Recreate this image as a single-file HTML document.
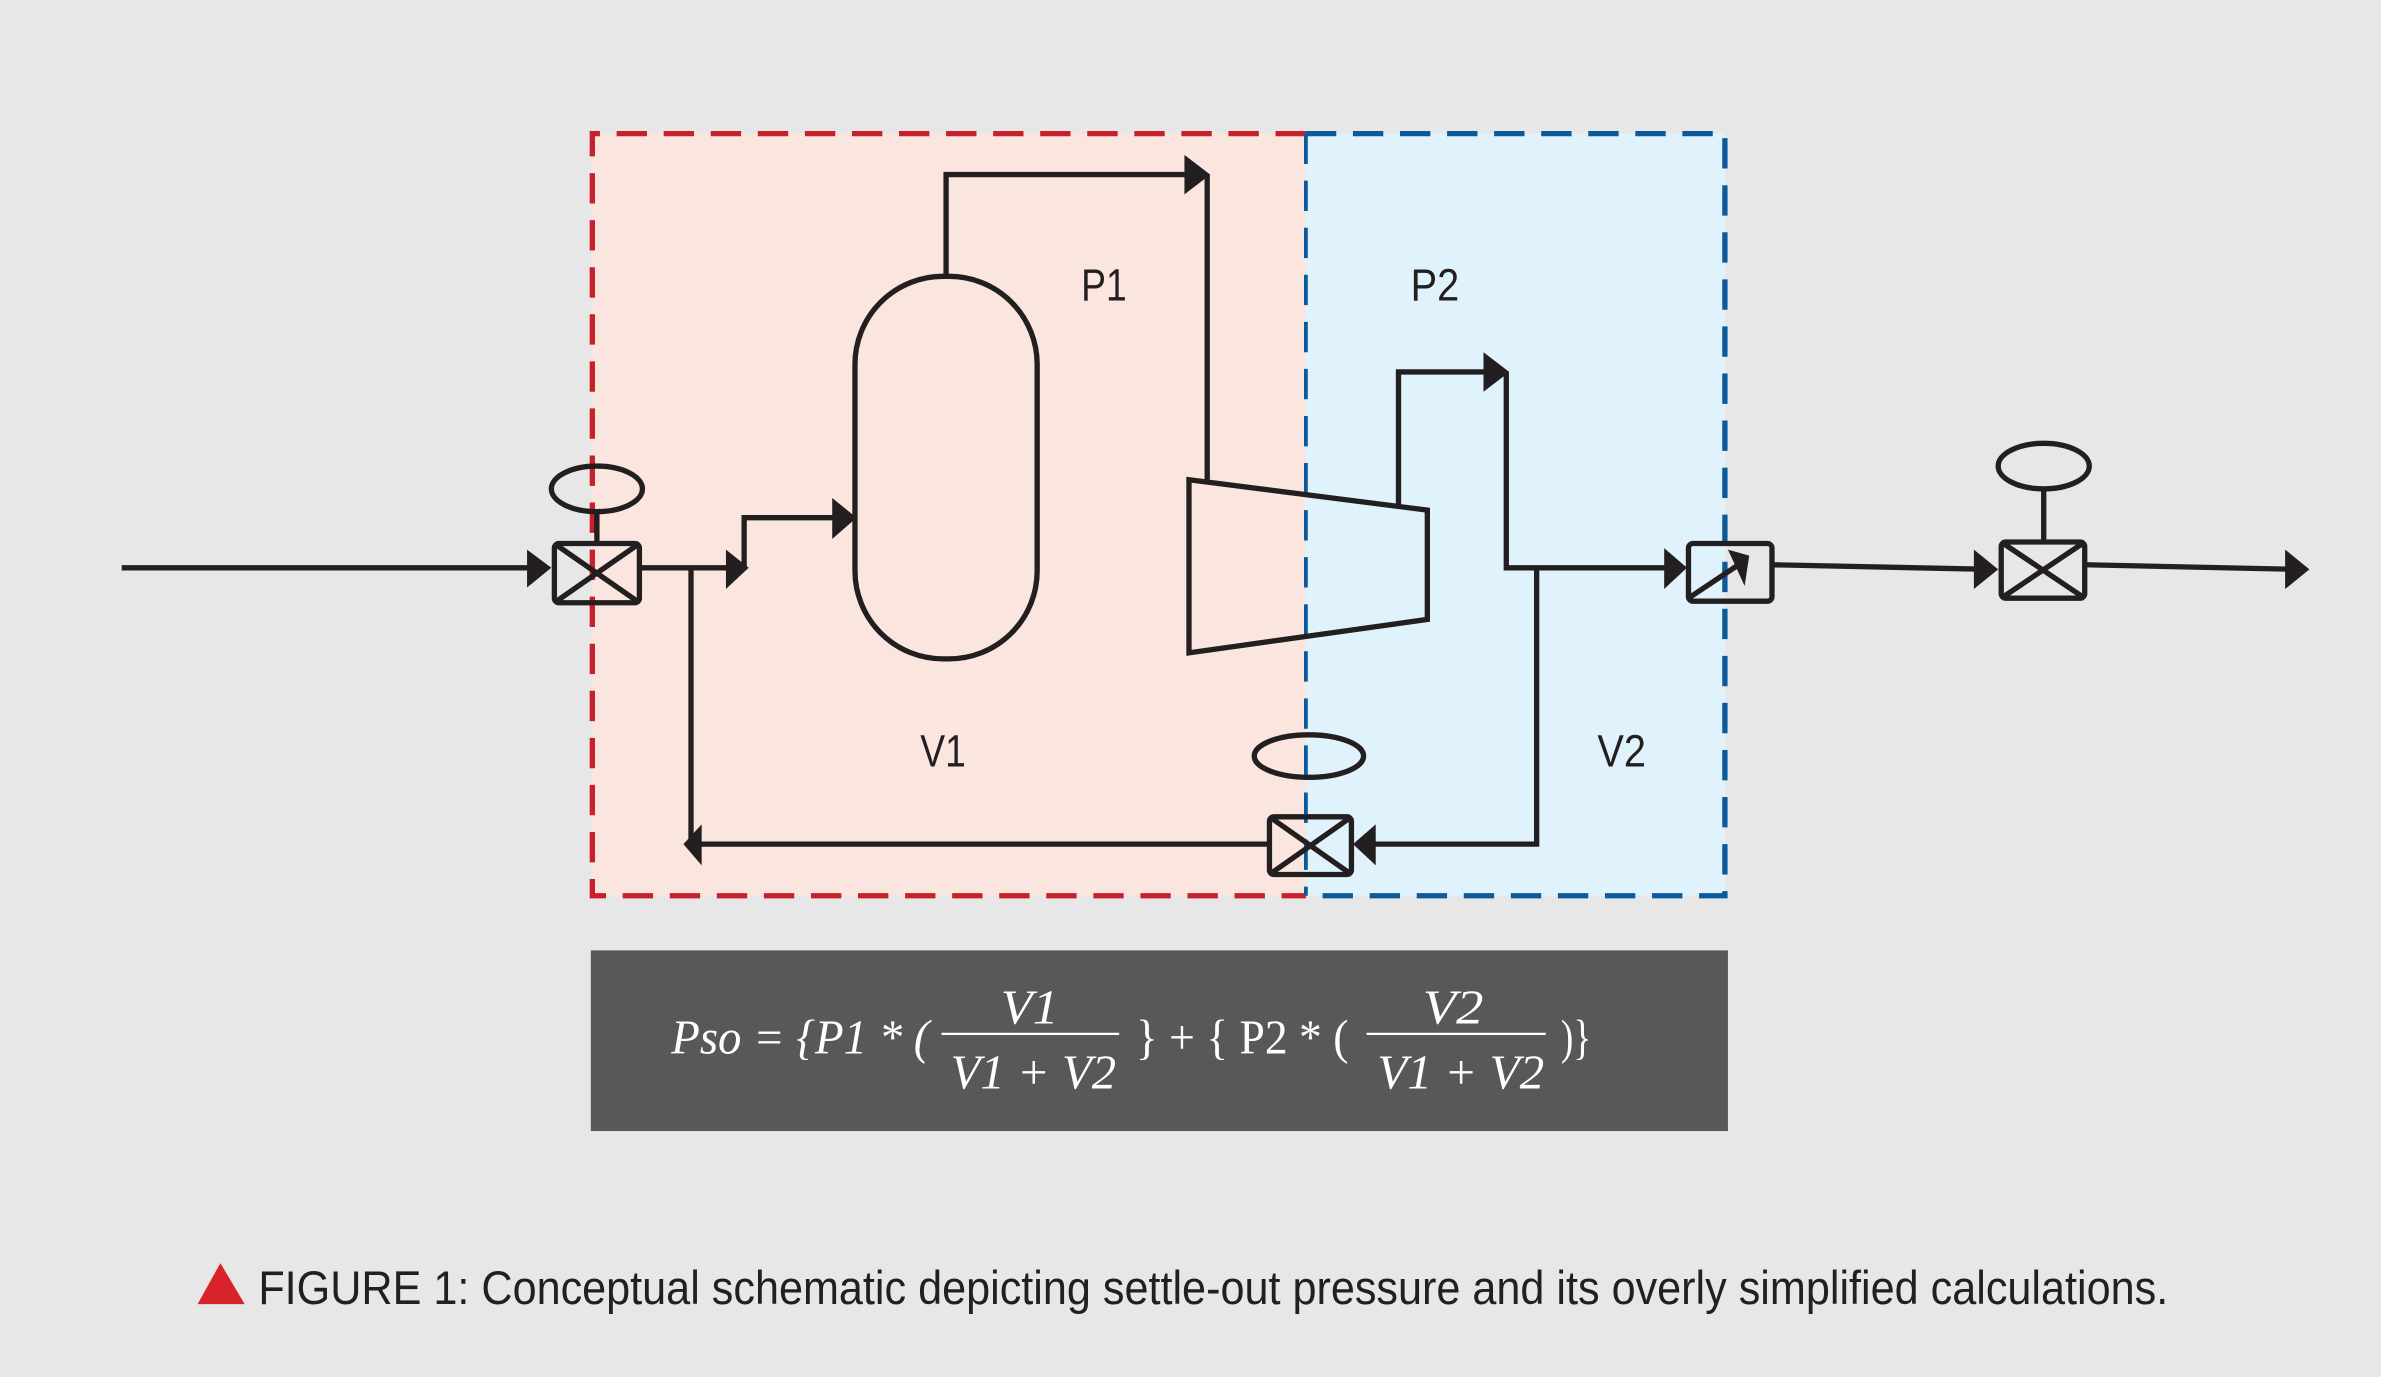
<!DOCTYPE html>
<html><head><meta charset="utf-8"><style>
html,body{margin:0;padding:0;background:#e7e7e7;}
svg{display:block;}
</style></head><body>
<svg width="2381" height="1377" viewBox="0 0 1568 907" xmlns="http://www.w3.org/2000/svg">
<rect x="0" y="0" width="1568" height="907" fill="#e7e7e7"/>
<rect x="390" y="88" width="470" height="502" fill="#fae6de"/>
<rect x="860" y="88" width="276" height="502" fill="#e0f2fc"/>
<path d="M860 88 H390 V590 H860" fill="none" stroke="#c8202a" stroke-width="3.5" stroke-dasharray="20,11"/>
<path d="M860 88 H1136 V590 H860" fill="none" stroke="#0a5a9c" stroke-width="3.5" stroke-dasharray="20,11"/>
<line x1="860" y1="88" x2="860" y2="590" stroke="#0a5a9c" stroke-width="2.5" stroke-dasharray="20,11"/>
<g stroke="#231f20" fill="none" stroke-width="3.5">
<rect x="563" y="182" width="120" height="252" rx="58"/>
<path d="M623 182 V115 H790"/>
<path d="M795 115 V316"/>
<polygon points="783,316 940,336 940,408 783,430" stroke-width="3.5"/>
<path d="M921 332 V245 H985"/>
<path d="M992 245 V374 H1104"/>
<path d="M1012 374 V556 H898"/>
<path d="M836 556 H455 V374"/>
<path d="M80 374 H358"/>
<path d="M421 374 H486"/>
<path d="M490 374 V341 H558"/>
<path d="M1167 372 L1310 375"/>
<path d="M1373 372 L1512 375"/>
<path d="M393 337 V358"/>
<path d="M1346 322 V356"/>
<ellipse cx="393" cy="322" rx="30" ry="15"/>
<ellipse cx="1346" cy="307" rx="30" ry="15"/>
<ellipse cx="862" cy="498" rx="36" ry="14"/>
<rect x="365" y="358" width="56" height="39" rx="3"/>
<path d="M365 358 L421 397 M421 358 L365 397"/>
<rect x="1318" y="357" width="55" height="37" rx="3"/>
<path d="M1318 357 L1373 394 M1373 357 L1318 394"/>
<rect x="836" y="538" width="54" height="38" rx="3"/>
<path d="M836 538 L890 576 M890 538 L836 576"/>
<rect x="1112" y="358" width="55" height="38" rx="3"/>
<path d="M1112 394 L1145 372"/>
</g>
<g fill="#231f20">
<polygon points="347,362 363,374 347,387"/>
<polygon points="478,362 493,374 478,388"/>
<polygon points="548,328 564,341 548,355"/>
<polygon points="780,102 797,115 780,128"/>
<polygon points="977,232 994,245 977,258"/>
<polygon points="1096,361 1111,374 1096,388"/>
<polygon points="906,543 891,556 906,570"/>
<polygon points="462,543 450,556 462,570"/>
<polygon points="1300,362 1316,375 1300,388"/>
<polygon points="1505,362 1521,375 1505,388"/>
<polygon points="1138,362 1152,366 1149,386"/>
</g>
<g font-family="Liberation Sans, sans-serif" font-size="30" fill="#231f20" text-anchor="middle">
<text x="727" y="198" textLength="30" lengthAdjust="spacingAndGlyphs">P1</text>
<text x="945" y="198" textLength="32" lengthAdjust="spacingAndGlyphs">P2</text>
<text x="621" y="505" textLength="30" lengthAdjust="spacingAndGlyphs">V1</text>
<text x="1068" y="505" textLength="32" lengthAdjust="spacingAndGlyphs">V2</text>
</g>
<rect x="389" y="626" width="749" height="119" fill="#58585a"/>
<g font-family="Liberation Serif, serif" font-size="32" fill="#ffffff">
<text x="442" y="694" textLength="170" lengthAdjust="spacingAndGlyphs" font-style="italic">Pso = {P1 * (</text>
<text x="678" y="674" text-anchor="middle" font-style="italic" textLength="38" lengthAdjust="spacingAndGlyphs">V1</text>
<text x="626" y="717" textLength="109" lengthAdjust="spacingAndGlyphs" font-style="italic">V1 + V2</text>
<text x="748" y="694" textLength="140" lengthAdjust="spacingAndGlyphs">} + { P2 * (</text>
<text x="957" y="674" text-anchor="middle" font-style="italic" textLength="40" lengthAdjust="spacingAndGlyphs">V2</text>
<text x="907" y="717" textLength="110" lengthAdjust="spacingAndGlyphs" font-style="italic">V1 + V2</text>
<text x="1028" y="694" textLength="20" lengthAdjust="spacingAndGlyphs">)}</text>
</g>
<line x1="620" y1="681" x2="737" y2="681" stroke="#fff" stroke-width="1.5"/>
<line x1="900" y1="681" x2="1018" y2="681" stroke="#fff" stroke-width="1.5"/>
<polygon points="130,859 145,832 161,859" fill="#d8232a"/>
<text x="170" y="859" font-family="Liberation Sans, sans-serif" font-size="31" fill="#231f20" textLength="1258" lengthAdjust="spacingAndGlyphs">FIGURE 1: Conceptual schematic depicting settle-out pressure and its overly simplified calculations.</text>
</svg>
</body></html>
